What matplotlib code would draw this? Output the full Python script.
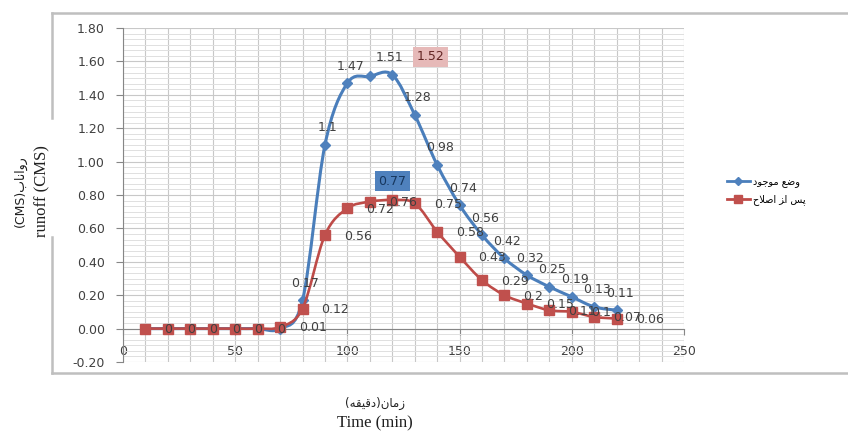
import matplotlib
matplotlib.use("Agg")
import matplotlib.pyplot as plt
import numpy as np
from matplotlib.path import Path
from matplotlib.patches import PathPatch
from matplotlib.lines import Line2D
from matplotlib.ticker import MultipleLocator, AutoMinorLocator

# data
time_min = [10, 20, 30, 40, 50, 60, 70, 80, 90, 100, 110, 120, 130, 140, 150,
            160, 170, 180, 190, 200, 210, 220]
runoff_existing = [0, 0, 0, 0, 0, 0, 0, 0.17, 1.1, 1.47, 1.51, 1.52, 1.28, 0.98,
                   0.74, 0.56, 0.42, 0.32, 0.25, 0.19, 0.13, 0.11]
runoff_improved = [0, 0, 0, 0, 0, 0, 0.01, 0.12, 0.56, 0.72, 0.76, 0.77, 0.75,
                   0.58, 0.43, 0.29, 0.2, 0.15, 0.11, 0.1, 0.07, 0.06]

# persian texts (presentation forms, visual order)
lbl_existing = "\uFEA9\uFEEE\uFE9F\uFEEE\uFEE3 \uFECA\uFEBF\uFEED"      # وضع موجود
lbl_improved = "\uFEA1\uFEFC\uFEBB\uFE8D \uFEB0\uFE8D \uFEB2\uFB58"     # پس از اصلاح
ylabel_fa = "(CMS)\uFE8F\uFE8E\uFEE7\uFE8D\uFEED\uFEAD"                 # رواناب(CMS)
xlabel_fa = "(\uFEEA\uFED8\uFEF4\uFED7\uFEA9)\uFEE5\uFE8E\uFEE3\uFEAF"  # زمان(دقیقه)

W, H = 848, 436
BLUE_LINE = "#4A7EBB"
BLUE_MK = "#4F81BD"
RED_LINE = "#BE4B48"
RED_MK = "#C0504D"
TXT = "#404040"


def px(x, y):
    return x / W, 1 - y / H


def smooth_path(x, y):
    """Catmull-Rom style smooth line (like excel 'smoothed line')"""
    pts = np.column_stack([x, y]).astype(float)
    n = len(pts)
    verts = [pts[0]]
    codes = [Path.MOVETO]
    for i in range(n - 1):
        p0 = pts[max(i - 1, 0)]
        p1 = pts[i]
        p2 = pts[i + 1]
        p3 = pts[min(i + 2, n - 1)]
        verts += [p1 + (p2 - p0) / 6, p2 - (p3 - p1) / 6, p2]
        codes += [Path.CURVE4] * 3
    return Path(verts, codes)


fig = plt.figure(figsize=(W / 100, H / 100), dpi=100)
l, b = px(123, 362)
r, t = px(684, 28)
ax = fig.add_axes([l, b, r - l, t - b])

ax.set_xlim(0, 250)
ax.set_ylim(-0.2, 1.8)
ax.xaxis.set_major_locator(MultipleLocator(50))
ax.xaxis.set_minor_locator(MultipleLocator(10))
ax.yaxis.set_major_locator(MultipleLocator(0.2))
ax.yaxis.set_minor_locator(AutoMinorLocator(6))
ax.yaxis.set_major_formatter(lambda v, p: f"{v:.2f}")

ax.grid(which="major", axis="y", color="#C8C8C8", lw=0.8)
ax.grid(which="minor", axis="y", color="#E0E0E0", lw=0.7)
ax.grid(which="both", axis="x", color="#C8C8C8", lw=0.8)
ax.set_axisbelow(True)

for s in ["top", "right"]:
    ax.spines[s].set_visible(False)
ax.spines["bottom"].set_position(("data", 0))
ax.spines["bottom"].set_color("#868686")
ax.spines["left"].set_color("#868686")
ax.tick_params(axis="both", which="major", labelsize=9, colors="#868686",
               labelcolor=TXT, direction="out")
ax.tick_params(axis="y", which="major", length=5, pad=8)
ax.tick_params(axis="x", which="major", length=4, pad=8)
ax.tick_params(which="minor", length=0)

# smoothed lines
ax.add_patch(PathPatch(smooth_path(time_min, runoff_existing), fc="none",
                       ec=BLUE_LINE, lw=2.2, zorder=3))
ax.plot(time_min, runoff_existing, ls="none", marker="D", ms=5.5,
        mfc=BLUE_MK, mec=BLUE_MK, zorder=4)
ax.add_patch(PathPatch(smooth_path(time_min, runoff_improved), fc="none",
                       ec=RED_LINE, lw=1.9, zorder=5))
ax.plot(time_min, runoff_improved, ls="none", marker="s", ms=7,
        mfc=RED_MK, mec=RED_MK, zorder=6)

# data labels
for xv, yv in zip(time_min, runoff_existing):
    if yv == 0:
        continue
    off, kw = (3, 17), {}
    if xv == 110:
        off = (20, 19)
    if xv == 120:
        off = (38, 18)
        kw = dict(bbox=dict(boxstyle="square,pad=0.3", fc="#E6B9B8", ec="none"),
                  color="#632523")
    ax.annotate(f"{yv:g}", (xv, yv), xytext=off, textcoords="offset pixels",
                ha="center", va="center", fontsize=9, color=kw.pop("color", TXT),
                zorder=8, **kw)

for xv, yv in zip(time_min, runoff_improved):
    if xv == 120:
        ax.annotate(f"{yv:g}", (xv, yv), xytext=(0, 19), textcoords="offset pixels",
                    ha="center", va="center", fontsize=9, color="#17375E", zorder=8,
                    bbox=dict(boxstyle="square,pad=0.3", fc="#4F81BD", ec="none"))
        continue
    ax.annotate(f"{yv:g}", (xv, yv), xytext=(19, -1), textcoords="offset pixels",
                ha="left", va="center", fontsize=9, color=TXT, zorder=8)

# legend
handles = [Line2D([], [], color=BLUE_LINE, lw=2, marker="D", ms=4, mfc=BLUE_MK, mec=BLUE_MK),
           Line2D([], [], color=RED_LINE, lw=2, marker="s", ms=5.5, mfc=RED_MK, mec=RED_MK)]
ax.legend(handles, [lbl_existing, lbl_improved], loc="center left",
          bbox_to_anchor=px(718, 191), bbox_transform=fig.transFigure,
          frameon=False, prop=dict(family="DejaVu Sans", size=7),
          handlelength=2.4, handletextpad=0.3, labelspacing=0.7)

# axis titles
fig.text(*px(20, 191), ylabel_fa, rotation=90, ha="center", va="center",
         family="DejaVu Sans", fontsize=9, color="#202020")
fig.text(*px(42, 191), "runoff (CMS)", rotation=90, ha="center", va="center",
         family="Liberation Serif", fontsize=12, color="#202020")
fig.text(*px(375, 403), xlabel_fa, ha="center", va="center",
         family="DejaVu Sans", fontsize=8.5, color="#202020")
fig.text(*px(375, 423), "Time (min)", ha="center", va="center",
         family="Liberation Serif", fontsize=12, color="#202020")

# chart area border
border = dict(color="#BFBFBF", lw=1.8, transform=fig.transFigure)
for (x0, y0), (x1, y1) in [((52, 13), (848, 13)), ((52, 373), (848, 373)),
                           ((52, 13), (52, 118)), ((52, 237), (52, 373))]:
    fig.add_artist(Line2D([x0 / W, x1 / W], [1 - y0 / H, 1 - y1 / H], **border))

fig.savefig("out.png", dpi=100)
